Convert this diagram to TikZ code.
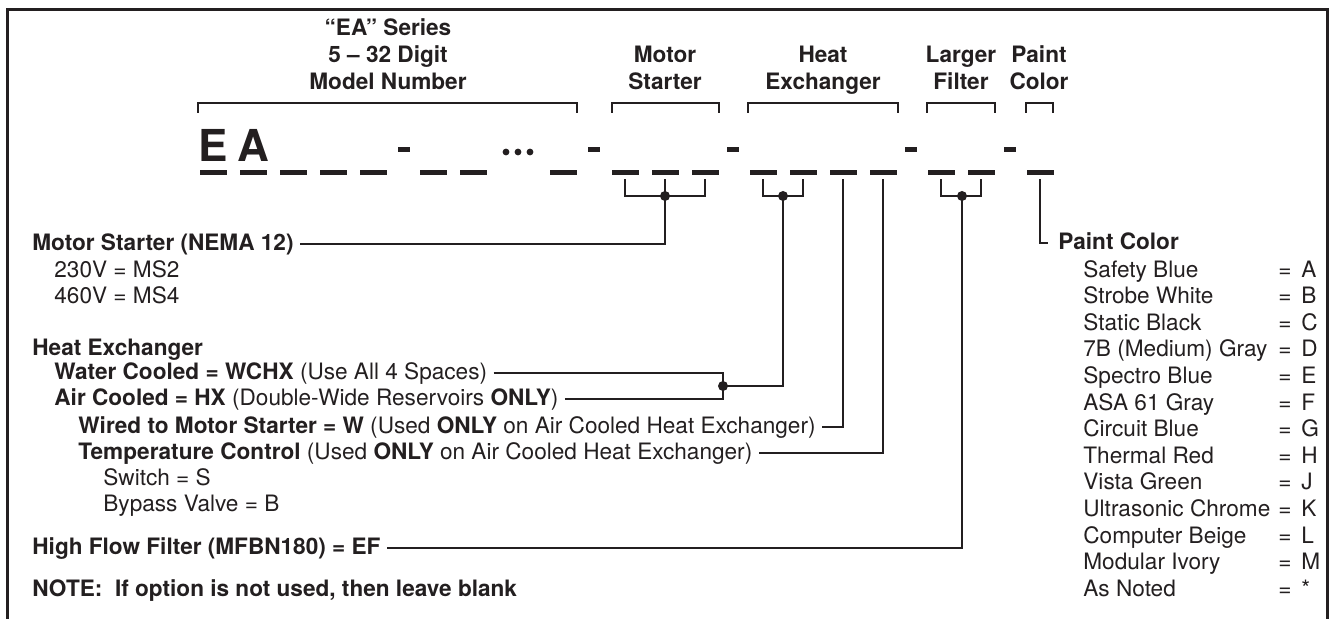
\documentclass[tikz,border=0pt]{standalone}
\usepackage{fontspec}
\setmainfont{TeX Gyre Heros}
\definecolor{ink}{RGB}{35,31,32}
\tikzset{
  txt/.style={anchor=west, inner xsep=3pt, inner ysep=0pt, text height=1.6ex, text depth=.45ex,
    text=ink, font=\fontsize{11.3}{13.5}\selectfont},
  btxt/.style={txt, font=\bfseries\fontsize{11.3}{13.5}\selectfont},
  head/.style={align=center, anchor=south, inner sep=0pt, text depth=0pt, text=ink,
    font=\bfseries\fontsize{11.3}{13.5}\selectfont},
  slot/.style={fill=ink, minimum width=13.5pt, minimum height=2.5pt, inner sep=0pt, outer sep=1.8pt},
  hyph/.style={fill=ink, minimum width=6pt, minimum height=2.5pt, inner sep=0pt},
  link/.style={line width=.6pt, draw=ink},
  brace/.style={line width=.7pt, draw=ink},
}
\begin{document}
\begin{tikzpicture}[x=0.5pt, y=-0.5pt]
    \useasboundingbox (0,0) rectangle (1333,619);

    % open frame (no bottom edge)
    \draw[line width=1.5pt, ink] (7.5,619) -- (7.5,10) -- (1327,10) -- (1327,619);

    % group headings and their brackets
    \node[head] (hmodel) at (388,90) {“EA” Series\\5 – 32 Digit\\Model Number};
    \node[head] (hmotor) at (665,90) {Motor\\Starter};
    \node[head] (hheat)  at (823,90) {Heat\\Exchanger};
    \node[head] (hfilt)  at (961,90) {Larger\\Filter};
    \node[head] (hpaint) at (1039,90) {Paint\\Color};
    \draw[brace] (198,113) |- (577,103) -- (577,113);
    \draw[brace] (612,113) |- (719,103) -- (719,113);
    \draw[brace] (748,113) |- (898,103) -- (898,113);
    \draw[brace] (927,113) |- (995,103) -- (995,113);
    \draw[brace] (1026,113) |- (1053,103) -- (1053,113);

    % model number: letters, slots, hyphens
    \node[anchor=base, inner sep=0pt, text=ink, font=\bfseries\fontsize{22}{22}\selectfont] (lE) at (213,162) {E};
    \node[anchor=base, inner sep=0pt, text=ink, font=\bfseries\fontsize{22}{22}\selectfont] (lA) at (253,162) {A};
    \foreach \x [count=\i] in {213,253,293,333,373,433,473,563}
        \node[slot] (s\i) at (\x,173) {};
    \foreach \x/\nm in {625/m1,665/m2,705/m3,763/h1,803/h2,843/h3,883/h4,941/f1,981/f2,1040/p1}
        \node[slot] (\nm) at (\x,173) {};
    \foreach \x [count=\i] in {404,594,733,911,1010}
        \node[hyph] (hy\i) at (\x,150) {};
    \foreach \x in {506,518,530}
        \fill[ink] (\x,152) circle (1.7pt);

    % left column of options
    \node[btxt] (motor) at (26,244) {Motor Starter (NEMA 12)};
    \node[txt] (v230) at (48,271) {230V = MS2};
    \node[txt] (v460) at (48,297) {460V = MS4};
    \node[btxt] (heat) at (26,349) {Heat Exchanger};
    \node[txt] (water) at (48,373) {\textbf{Water Cooled = WCHX} (Use All 4 Spaces)};
    \node[txt] (air) at (48,399) {\textbf{Air Cooled = HX} (Double-Wide Reservoirs \textbf{ONLY})};
    \node[txt] (wired) at (72,427) {\textbf{Wired to Motor Starter = W} (Used \textbf{ONLY} on Air Cooled Heat Exchanger)};
    \node[txt] (temp) at (72,453) {\textbf{Temperature Control} (Used \textbf{ONLY} on Air Cooled Heat Exchanger)};
    \node[txt] (sw) at (97,479) {Switch = S};
    \node[txt] (bp) at (97,505) {Bypass Valve = B};
    \node[btxt] (flow) at (26,548) {High Flow Filter (MFBN180) = EF};
    \node[btxt] (note) at (26,590) {NOTE:\ \ If option is not used, then leave blank};

    % right column: paint colours
    \node[btxt] (paint) at (1052,243) {Paint Color};
    \foreach \nm/\cd [count=\i] in {Safety Blue/A, Strobe White/B, Static Black/C,
        7B (Medium) Gray/D, Spectro Blue/E, ASA 61 Gray/F, Circuit Blue/G, Thermal Red/H,
        Vista Green/J, Ultrasonic Chrome/K, Computer Beige/L, Modular Ivory/M, As Noted/*}
    {
        \node[txt] (c\i) at (1077,{271+(\i-1)*26.6}) {\nm};
        \node[txt, anchor=center, inner xsep=0pt] (e\i) at (1285,{271+(\i-1)*26.6}) {=};
        \node[txt] (k\i) at (1295,{271+(\i-1)*26.6}) {\cd};
    }

    % junctions
    \coordinate (mj) at (665,196);
    \coordinate (hj) at (783,196);
    \coordinate (fj) at (962,196);
    \coordinate (hk) at (723,386);

    % connectors
    \draw[link] (m1.south) |- (mj) -| (m3.south);
    \draw[link] (m2.south) -- (mj);
    \draw[link] (mj) |- (motor.east);
    \draw[link] (h1.south) |- (hj) -| (h2.south);
    \draw[link] (hj) |- (hk);
    \draw[link] (water.east) -| (hk);
    \draw[link] (air.east) -| (hk);
    \draw[link] (h3.south) |- (wired.east);
    \draw[link] (h4.south) |- (temp.east);
    \draw[link] (f1.south) |- (fj) -| (f2.south);
    \draw[link] (fj) |- (flow.east);
    \draw[link, shorten >=2pt] (p1.south) |- (paint.west);
    \foreach \c in {mj,hj,fj,hk}
        \fill[ink] (\c) circle (2.5pt);

\end{tikzpicture}
\end{document}
